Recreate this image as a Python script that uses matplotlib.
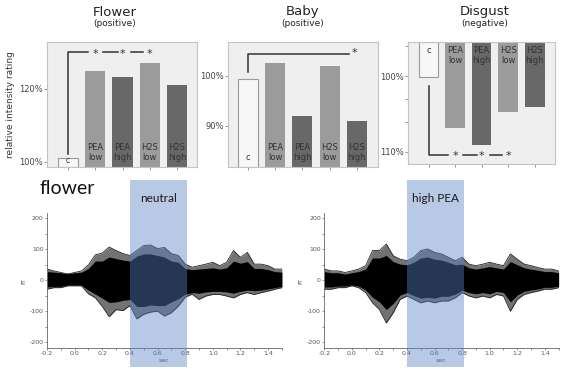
import numpy as np
import matplotlib.pyplot as plt
import matplotlib.transforms as mtransforms
from matplotlib.patches import Rectangle

# bar charts (relative intensity rating, %)
bar_labels = ['c', 'PEA\nlow', 'PEA\nhigh', 'H2S\nlow', 'H2S\nhigh']
bar_colors = ['#f7f7f7', '#9b9b9b', '#686868', '#9b9b9b', '#686868']
flower_vals = [101.0, 125.0, 123.3, 127.0, 121.0]
baby_vals = [99.4, 102.5, 92.0, 101.9, 90.9]
disgust_vals = [100.05, 106.9, 109.1, 104.7, 104.1]

# MEG butterfly plots, read as envelopes of the traces (fT)
t = [-0.2, -0.15, -0.1, -0.05, 0.0, 0.05, 0.1, 0.15, 0.2, 0.25, 0.3, 0.35,
     0.4, 0.45, 0.5, 0.55, 0.6, 0.65, 0.7, 0.75, 0.8, 0.85, 0.9, 0.95,
     1.0, 1.05, 1.1, 1.15, 1.2, 1.25, 1.3, 1.35, 1.4, 1.45, 1.5]

neu_up = [36, 30, 25, 20, 25, 30, 50, 82, 88, 107, 96, 86, 80, 96, 112, 114, 102, 106,
          86, 80, 52, 42, 47, 52, 58, 47, 58, 96, 74, 90, 52, 52, 47, 36, 36]
neu_lo = [-29, -24, -24, -18, -18, -18, -44, -57, -85, -118, -95, -98, -82, -125, -110, -103,
          -100, -116, -105, -84, -55, -45, -62, -51, -46, -46, -51, -57, -46, -40, -46, -40, -35, -29, -24]
neu_core_up = [28, 26, 24, 22, 24, 26, 38, 62, 62, 75, 70, 65, 62, 78, 85, 85, 80, 75,
               62, 58, 38, 34, 36, 38, 40, 36, 40, 62, 55, 60, 38, 38, 34, 28, 26]
neu_core_lo = [-22, -20, -20, -16, -16, -17, -32, -45, -58, -72, -70, -65, -62, -85, -85, -80,
               -82, -82, -70, -60, -45, -40, -42, -38, -36, -36, -38, -42, -36, -32, -34, -32, -28, -24, -20]

pea_up = [36, 30, 30, 25, 30, 36, 47, 96, 96, 117, 79, 68, 63, 74, 96, 101, 90, 85,
          74, 63, 74, 52, 47, 52, 58, 52, 47, 85, 68, 52, 47, 41, 36, 36, 30]
pea_lo = [-29, -29, -24, -24, -18, -24, -40, -73, -95, -138, -105, -62, -51, -62, -73, -67,
          -73, -67, -67, -57, -40, -51, -57, -51, -57, -46, -51, -100, -62, -46, -40, -35, -29, -29, -24]
pea_core_up = [28, 24, 24, 20, 24, 28, 36, 72, 72, 80, 60, 52, 50, 58, 72, 75, 68, 65,
               58, 50, 52, 40, 36, 40, 44, 40, 36, 60, 50, 40, 36, 32, 28, 28, 24]
pea_core_lo = [-22, -22, -19, -19, -15, -19, -32, -55, -70, -95, -75, -48, -40, -50, -58, -55,
               -58, -52, -52, -45, -32, -40, -44, -40, -44, -36, -40, -70, -48, -36, -32, -28, -23, -23, -19]

fig = plt.figure(figsize=(5.7, 3.7), dpi=100)
fig.patch.set_facecolor('white')
x = np.arange(len(bar_labels))


def bar_panel(rect, vals, ylim, yticks, yticklabels, xlim, inverted=False, small_c=False):
    ax = fig.add_axes(rect)
    ax.set_facecolor('#efefef')
    base = ylim[0]
    heights = [v - base for v in vals]
    ax.bar(x, heights, bottom=base, width=0.74, color=bar_colors,
           edgecolor=['#9a9a9a', 'none', 'none', 'none', 'none'], linewidth=0.8, zorder=2)
    ax.set_xlim(*xlim)
    ax.set_ylim(*ylim)
    if inverted:
        ax.invert_yaxis()
    ax.set_yticks(yticks)
    ax.set_yticklabels(yticklabels)
    ax.set_xticks(x)
    ax.set_xticklabels([])
    ax.tick_params(axis='both', length=2, width=0.6, color='#888888',
                   labelsize=6, labelcolor='#444444', pad=1)
    for s in ax.spines.values():
        s.set_color('#c4c4c4')
        s.set_linewidth(0.8)
    trans = mtransforms.blended_transform_factory(ax.transData, ax.transAxes)
    for i, lab in enumerate(bar_labels):
        if inverted:
            ax.text(i, 0.965, lab, transform=trans, ha='center', va='top',
                    fontsize=6, color='#333333', linespacing=1.15, zorder=3)
        elif i == 0 and small_c:
            ax.text(i, 0.012, lab, transform=trans, ha='center', va='bottom',
                    fontsize=5.5, color='#333333', zorder=3)
        else:
            ax.text(i, 0.035, lab, transform=trans, ha='center', va='bottom',
                    fontsize=6, color='#333333', linespacing=1.15, zorder=3)
    return ax


def stars_bracket(ax, y0, y1, ystar):
    kw = dict(color='#333333', lw=1.1, clip_on=False, zorder=4)
    ax.plot([0, 0, 0.73], [y0, y1, y1], **kw)
    ax.plot([1.3, 1.82], [y1, y1], **kw)
    ax.plot([2.3, 2.76], [y1, y1], **kw)
    for xi in [1, 2, 3]:
        ax.text(xi, ystar, '*', ha='center', va='center', fontsize=8, color='#333333')


# Flower
ax1 = bar_panel([0.0825, 0.549, 0.263, 0.338], flower_vals, (98.6, 132.9),
                [100, 120], ['100%', '120%'], (-0.77, 4.73), small_c=True)
stars_bracket(ax1, 102.0, 130.1, 129.5)
ax1.set_ylabel('relative intensity rating', fontsize=6.5, color='#333333', labelpad=3)

# Baby
ax2 = bar_panel([0.4, 0.549, 0.263, 0.338], baby_vals, (81.8, 106.8),
                [90, 100], ['90%', '100%'], (-0.74, 4.78))
ax2.plot([0, 0, 3.71], [100.8, 104.4, 104.4], color='#333333', lw=1.1, zorder=4)
ax2.text(3.92, 104.6, '*', ha='center', va='center', fontsize=8, color='#333333')

# Disgust (inverted axis)
ax3 = bar_panel([0.716, 0.557, 0.258, 0.33], disgust_vals, (95.4, 111.6),
                [96, 100, 103, 106, 110], ['', '100%', '', '', '110%'], (-0.77, 4.77),
                inverted=True)
stars_bracket(ax3, 101.2, 110.4, 110.6)

# titles
for xc, title, sub in [(115, 'Flower', '(positive)'), (303, 'Baby', '(positive)'),
                       (485, 'Disgust', '(negative)')]:
    fig.text(xc / 570, 1 - 12 / 370, title, ha='center', va='center', fontsize=9.5, color='#222222')
    fig.text(xc / 570, 1 - 24 / 370, sub, ha='center', va='center', fontsize=6.5, color='#222222')


def butterfly(rect, up, lo, cup, clo, label):
    ax = fig.add_axes(rect)
    ax.fill_between(t, lo, up, color='black', alpha=0.55, lw=0)
    ax.fill_between(t, clo, cup, color='black', lw=0)
    ax.plot(t, up, color='#222222', lw=0.6)
    ax.plot(t, lo, color='#222222', lw=0.6)
    ax.set_xlim(-0.2, 1.5)
    ax.set_ylim(-218, 216)
    ax.set_xticks([-0.2, 0.0, 0.2, 0.4, 0.6, 0.8, 1.0, 1.2, 1.4])
    ax.set_xticks([-0.1, 0.1, 0.3, 0.5, 0.7, 0.9, 1.1, 1.3, 1.5], minor=True)
    ax.set_yticks([-200, -100, 0, 100, 200])
    ax.set_yticks([-150, -50, 50, 150], minor=True)
    ax.set_xticklabels(['-0.2', '0.0', '0.2', '0.4', '0.6', '0.8', '1.0', '1.2', '1.4'])
    ax.set_yticklabels(['-200', '-100', '0', '100', '200'])
    ax.tick_params(which='both', length=1.5, width=0.5, color='#666666',
                   labelsize=4.5, labelcolor='#555555', pad=1)
    for s in ['top', 'right']:
        ax.spines[s].set_visible(False)
    for s in ['left', 'bottom']:
        ax.spines[s].set_color('#666666')
        ax.spines[s].set_linewidth(0.6)
    ax.set_ylabel('fT', fontsize=4.5, color='#555555', labelpad=2)
    ax.set_xlabel('sec', fontsize=4.5, color='#555555', labelpad=1)
    trans = mtransforms.blended_transform_factory(ax.transData, fig.transFigure)
    ax.add_patch(Rectangle((0.4, 0.008), 0.41, 0.505, transform=trans,
                           facecolor=(0.35, 0.51, 0.77), alpha=0.43, lw=0,
                           clip_on=False, zorder=5))
    ax.text(0.605, 1 - 199 / 370, label, transform=trans, ha='center', va='center',
            fontsize=8.5, family='Lato', color='#1a1a1a', zorder=6)
    return ax


butterfly([0.0825, 0.0603, 0.412, 0.363], neu_up, neu_lo, neu_core_up, neu_core_lo, 'neutral')
butterfly([0.569, 0.0603, 0.411, 0.363], pea_up, pea_lo, pea_core_up, pea_core_lo, 'high PEA')

fig.text(40 / 570, 1 - 189 / 370, 'flower', ha='left', va='center', fontsize=14,
         family='Lato', color='#111111')

fig.savefig('out.png', dpi=100)
